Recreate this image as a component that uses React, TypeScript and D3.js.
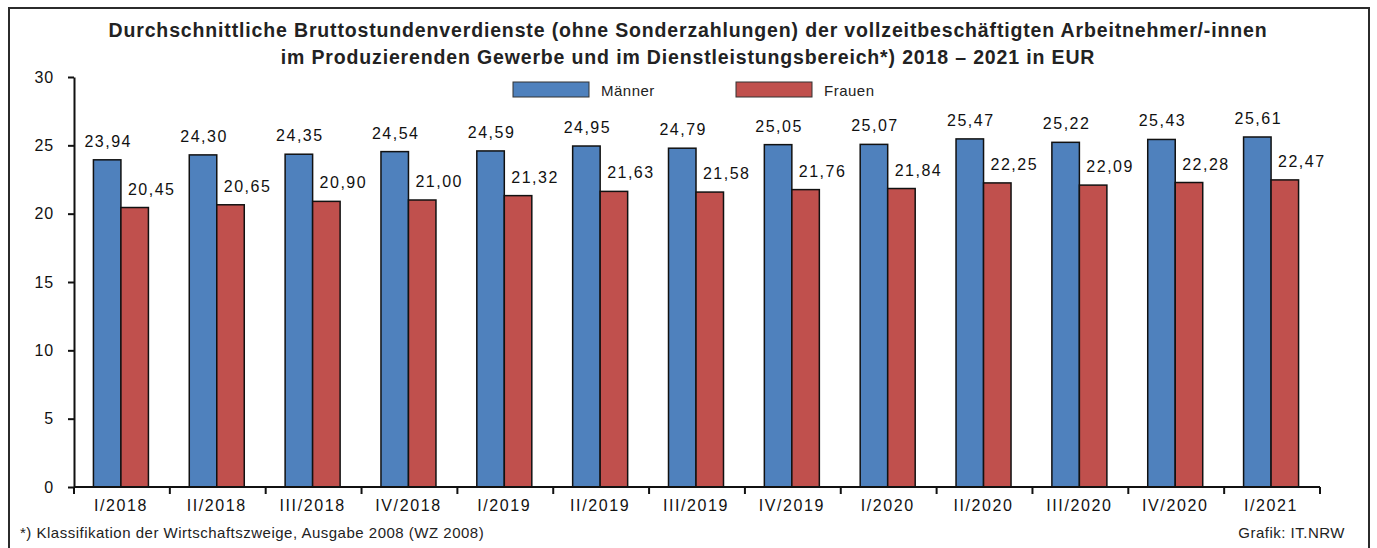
import React, { useEffect, useRef } from 'react';
import * as d3 from 'd3';

const quarters = ['I/2018', 'II/2018', 'III/2018', 'IV/2018', 'I/2019', 'II/2019', 'III/2019', 'IV/2019', 'I/2020', 'II/2020', 'III/2020', 'IV/2020', 'I/2021'];
const maenner = [23.94, 24.3, 24.35, 24.54, 24.59, 24.95, 24.79, 25.05, 25.07, 25.47, 25.22, 25.43, 25.61];
const frauen = [20.45, 20.65, 20.9, 21.0, 21.32, 21.63, 21.58, 21.76, 21.84, 22.25, 22.09, 22.28, 22.47];
const yTicks = [0, 5, 10, 15, 20, 25, 30];
const seriesNames = ['Männer', 'Frauen'];
const seriesColors = ['#4F81BD', '#C0504D'];

const W = 1377;
const H = 548;
const FONT = '"Liberation Sans", Arial, sans-serif';

const App = () => {
  const ref = useRef<SVGSVGElement>(null);

  useEffect(() => {
    const svg = d3.select(ref.current);
    svg.selectAll('*').remove();

    const de = d3.formatLocale({ decimal: ',', thousands: '.', grouping: [3], currency: ['', ' €'] });
    const fmt = de.format('.2f');

    // outer frame
    svg.append('rect')
      .attr('x', 9).attr('y', 8).attr('width', 1360).attr('height', 560)
      .attr('fill', '#fff').attr('stroke', '#2b2b2b').attr('stroke-width', 2);

    // title
    const title = svg.append('text')
      .attr('text-anchor', 'middle')
      .attr('font-family', FONT)
      .attr('font-weight', 'bold')
      .attr('font-size', 19.5)
      .attr('letter-spacing', 0.85)
      .attr('fill', '#222');
    title.append('tspan').attr('x', 688).attr('y', 37)
      .text('Durchschnittliche Bruttostundenverdienste (ohne Sonderzahlungen) der vollzeitbeschäftigten Arbeitnehmer/-innen');
    title.append('tspan').attr('x', 688).attr('y', 64)
      .text('im Produzierenden Gewerbe und im Dienstleistungsbereich*) 2018 – 2021 in EUR');

    const x = d3.scaleBand<string>().domain(quarters).range([74, 1320]).padding(0);
    const y = d3.scaleLinear().domain([0, 30]).range([487, 77]);
    const groupW = 55;
    const inner = d3.scaleBand<string>().domain(seriesNames).range([0, groupW]);
    const groupOff = (x.bandwidth() - groupW) / 2 - 1;

    // bars
    const seriesData = [maenner, frauen];
    seriesData.forEach((vals, si) => {
      const g = svg.append('g');
      g.selectAll('rect')
        .data(vals)
        .join('rect')
        .attr('x', (_d, i) => x(quarters[i])! + groupOff + inner(seriesNames[si])!)
        .attr('y', d => y(d))
        .attr('width', inner.bandwidth())
        .attr('height', d => y(0) - y(d))
        .attr('fill', seriesColors[si])
        .attr('stroke', '#111')
        .attr('stroke-width', 1.5);

      g.selectAll('text')
        .data(vals)
        .join('text')
        .attr('x', (_d, i) => x(quarters[i])! + groupOff + inner(seriesNames[si])! + inner.bandwidth() / 2 + (si === 0 ? 1 : 17))
        .attr('y', d => y(d) - 13)
        .attr('text-anchor', 'middle')
        .attr('font-family', FONT)
        .attr('font-size', 16)
        .attr('letter-spacing', 1.5)
        .attr('fill', '#111')
        .text(d => fmt(d));
    });

    // y axis
    const yAxis = d3.axisLeft(y).tickValues(yTicks).tickSize(6).tickSizeOuter(0).tickPadding(14);
    const ya = svg.append('g').attr('transform', 'translate(74,0)').call(yAxis);
    ya.select('.domain').attr('stroke', '#111').attr('stroke-width', 2);
    ya.selectAll('.tick line').attr('stroke', '#111').attr('stroke-width', 2);
    ya.selectAll('.tick text')
      .attr('font-family', FONT).attr('font-size', 16).attr('letter-spacing', 0.8)
      .attr('fill', '#111');

    // x axis line + boundary ticks
    const xa = svg.append('g');
    xa.append('line')
      .attr('x1', 74).attr('x2', 1320).attr('y1', y(0)).attr('y2', y(0))
      .attr('stroke', '#111').attr('stroke-width', 2);
    const bounds = quarters.map(q => x(q)!).concat([x.range()[1]]);
    xa.selectAll('line.tk')
      .data(bounds)
      .join('line')
      .attr('class', 'tk')
      .attr('x1', d => d).attr('x2', d => d)
      .attr('y1', y(0)).attr('y2', y(0) + 7)
      .attr('stroke', '#111').attr('stroke-width', 2);
    xa.selectAll('text')
      .data(quarters)
      .join('text')
      .attr('x', d => x(d)! + x.bandwidth() / 2 - 1)
      .attr('y', 511)
      .attr('text-anchor', 'middle')
      .attr('font-family', FONT)
      .attr('font-size', 16)
      .attr('letter-spacing', 1.6)
      .attr('fill', '#111')
      .text(d => d);

    // legend
    const legX = [513, 736];
    seriesNames.forEach((name, i) => {
      svg.append('rect')
        .attr('x', legX[i]).attr('y', 82).attr('width', 76).attr('height', 15)
        .attr('fill', seriesColors[i]).attr('stroke', '#333').attr('stroke-width', 1);
      svg.append('text')
        .attr('x', legX[i] + 88).attr('y', 96)
        .attr('font-family', FONT).attr('font-size', 15).attr('letter-spacing', 0.5).attr('fill', '#222')
        .text(name);
    });

    // footer
    svg.append('text')
      .attr('x', 20).attr('y', 538)
      .attr('font-family', FONT).attr('font-size', 15).attr('letter-spacing', 0.5).attr('fill', '#222')
      .text('*) Klassifikation der Wirtschaftszweige, Ausgabe 2008 (WZ 2008)');
    svg.append('text')
      .attr('x', 1345).attr('y', 538)
      .attr('text-anchor', 'end')
      .attr('font-family', FONT).attr('font-size', 15).attr('letter-spacing', 0.5).attr('fill', '#222')
      .text('Grafik: IT.NRW');
  }, []);

  return (
    <svg
      ref={ref}
      width={W}
      height={H}
      style={{ position: 'absolute', left: 0, top: 0, background: '#fff' }}
    />
  );
};

export default App;
